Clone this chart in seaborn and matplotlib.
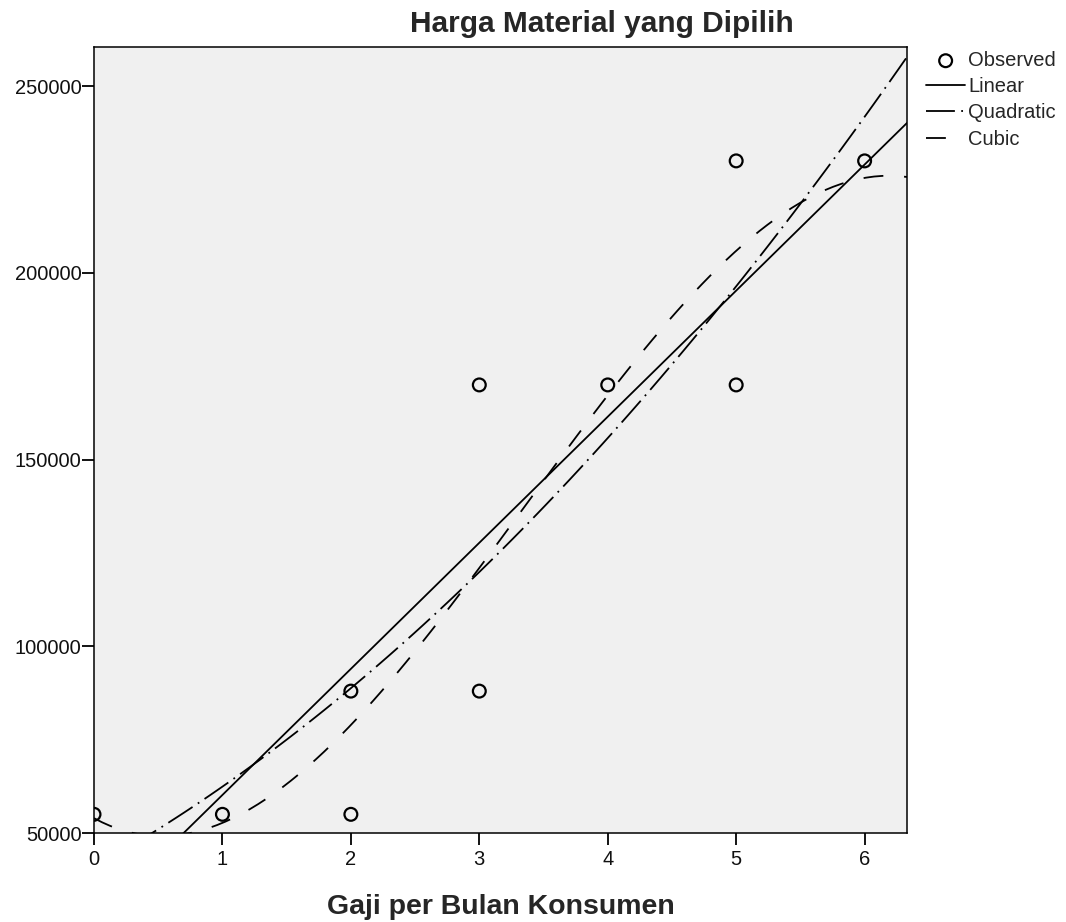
import numpy as np
import pandas as pd
import matplotlib
matplotlib.use('Agg')
import matplotlib.pyplot as plt
from matplotlib.ticker import FuncFormatter
import seaborn as sns

# observed data (x = income category, y = chosen material price)
gaji = [0, 1, 2, 2, 3, 3, 4, 5, 5, 6]
harga = [55000, 55000, 55000, 88000, 88000, 170000, 170000, 170000, 230000, 230000]
yticks = [50000, 100000, 150000, 200000, 250000]
xticks = [0, 1, 2, 3, 4, 5, 6]

df = pd.DataFrame({'gaji': gaji, 'harga': harga})

sns.set_style('ticks')
plt.rcParams['font.family'] = ['Liberation Sans', 'DejaVu Sans']

W, H = 1066, 922
fig = plt.figure(figsize=(W / 100, H / 100), dpi=100)
ax = fig.add_axes([94 / W, 1 - 833 / H, (907 - 94) / W, (833 - 47) / H])
ax.set_facecolor('#f0f0f0')
ax.set_xlim(0, 6.33)
ax.set_ylim(50000, 260500)

sns.scatterplot(data=df, x='gaji', y='harga', ax=ax, marker='o', s=85,
                facecolor='none', edgecolor='black', linewidth=1.6, label='Observed', zorder=5)

line_kw = dict(color='black', linewidth=1.3)
sns.regplot(data=df, x='gaji', y='harga', order=1, ci=None, scatter=False, truncate=False,
            ax=ax, label='Linear', line_kws=dict(linestyle='-', **line_kw))
sns.regplot(data=df, x='gaji', y='harga', order=2, ci=None, scatter=False, truncate=False,
            ax=ax, label='Quadratic', line_kws=dict(linestyle=(0, (16, 3.5, 1, 3.5)), **line_kw))
sns.regplot(data=df, x='gaji', y='harga', order=3, ci=None, scatter=False, truncate=False,
            ax=ax, label='Cubic', line_kws=dict(linestyle=(0, (11, 11.5)), **line_kw))

ax.set_xlim(0, 6.33)
ax.set_ylim(50000, 260500)
ax.set_xticks(xticks)
ax.set_yticks(yticks)
ax.yaxis.set_major_formatter(FuncFormatter(lambda v, p: f'{int(v)}'))
ax.tick_params(axis='both', direction='out', length=8.5, width=1.3, labelsize=14.5,
               color='black', labelcolor='#111111')
ax.tick_params(axis='y', pad=0.5)
ax.tick_params(axis='x', pad=4)
for s in ax.spines.values():
    s.set_color('black')
    s.set_linewidth(1.1)
ax.set_xlabel('')
ax.set_ylabel('')

leg = ax.legend(loc='upper left', bbox_to_anchor=(926 / W, 1 - 51 / H), bbox_transform=fig.transFigure,
                frameon=False, fontsize=14.5, handlelength=1.95, handletextpad=0.15,
                labelspacing=0.36, borderaxespad=0, borderpad=0)

fig.text(602 / W, 1 - 32 / H, 'Harga Material yang Dipilih', ha='center', va='baseline',
         fontsize=21.5, fontweight='bold')
fig.text(501 / W, 1 - 914 / H, 'Gaji per Bulan Konsumen', ha='center', va='baseline',
         fontsize=20.5, fontweight='bold')

fig.savefig('out.png', dpi=100)
